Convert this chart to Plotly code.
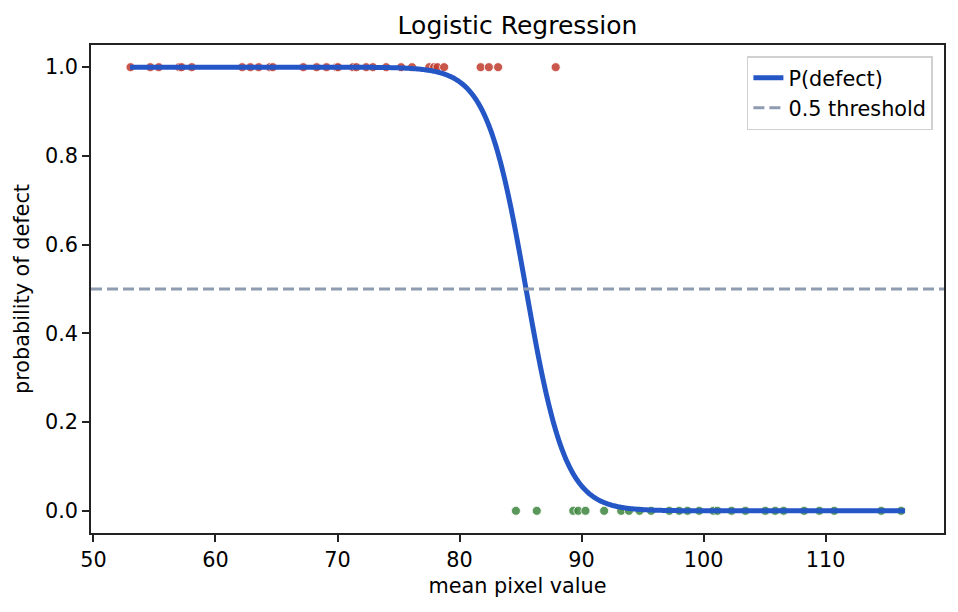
import numpy as np
import plotly.graph_objects as go

# Observed samples
defect_x = [53.04, 54.66, 55.35, 57.03, 57.22, 58.06, 62.19, 62.86, 63.54, 64.45, 64.7,
            67.2, 68.29, 69.1, 69.92, 70.05, 71.27, 71.55, 72.36, 72.9, 73.99, 75.21,
            76.11, 77.52, 77.92, 78.19, 78.74, 81.73, 82.4, 83.16, 87.88]
defect_y = [1.0] * len(defect_x)
ok_x = [84.62, 86.33, 89.32, 89.73, 90.32, 91.85, 93.25, 93.88, 94.75, 95.7, 97.19,
        98.0, 98.68, 99.64, 100.8, 101.13, 102.29, 103.43, 105.06, 105.87, 106.56,
        108.24, 109.49, 110.71, 114.56, 116.19]
ok_y = [0.0] * len(ok_x)

# Fitted logistic model parameters
midpoint = 85.45
slope = 0.62
x_min, x_max = 53.0, 116.5
threshold = 0.5

xs = np.linspace(x_min, x_max, 800)
ps = 1.0 / (1.0 + np.exp(slope * (xs - midpoint)))

FS = 20.8

fig = go.Figure()
fig.add_trace(go.Scatter(x=defect_x, y=defect_y, mode="markers", showlegend=False,
                         marker=dict(size=9, color="rgba(192,57,43,0.85)",
                                     line=dict(color="white", width=0.8))))
fig.add_trace(go.Scatter(x=ok_x, y=ok_y, mode="markers", showlegend=False,
                         marker=dict(size=9, color="rgba(61,133,61,0.85)",
                                     line=dict(color="white", width=0.8))))
fig.add_trace(go.Scatter(x=xs, y=ps, mode="lines", name="P(defect)", legendgroup="a",
                         line=dict(color="#2456c6", width=5, simplify=False)))
fig.add_trace(go.Scatter(x=[49.8, 119.7], y=[threshold, threshold], mode="lines",
                         name="0.5 threshold", legendgroup="b",
                         line=dict(color="#8e9bb0", width=3, dash="11px,5px")))

axis_common = dict(showline=True, mirror=True, linecolor="#222222", linewidth=1.6,
                   ticks="outside", ticklen=7, tickwidth=1.6, tickcolor="#222222",
                   showgrid=False, zeroline=False,
                   tickfont=dict(size=FS, color="black"))
fig.update_xaxes(range=[49.8, 119.7], tick0=50, dtick=10,
                 title=dict(text="mean pixel value", font=dict(size=FS, color="black"), standoff=8),
                 **axis_common)
fig.update_yaxes(range=[-0.05, 1.05], tick0=0, dtick=0.2, tickformat=".1f",
                 title=dict(text="probability of defect", font=dict(size=FS, color="black"), standoff=10),
                 **axis_common)

fig.update_layout(
    width=958, height=612,
    margin=dict(l=91, r=14, t=45, b=79),
    paper_bgcolor="white", plot_bgcolor="white",
    font=dict(family="DejaVu Sans", color="black"),
    title=dict(text="Logistic Regression", xref="paper", x=0.5, xanchor="center",
               y=0.958, yanchor="middle", font=dict(size=25, color="black")),
    legend=dict(x=0.987, y=0.977, xanchor="right", yanchor="top",
                traceorder="grouped", tracegroupgap=0,
                bgcolor="rgba(255,255,255,0.8)", bordercolor="#d0d0d0", borderwidth=1.5,
                font=dict(size=FS, color="black")),
)

fig.write_html("out.html")
